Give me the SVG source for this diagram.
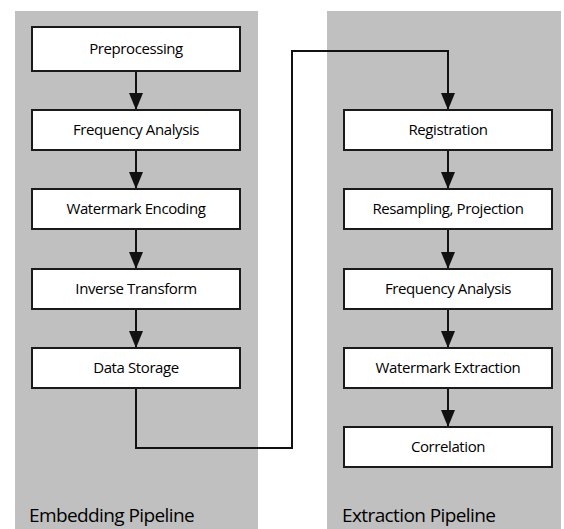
<svg xmlns="http://www.w3.org/2000/svg" width="564" height="529" viewBox="0 0 564 529">
  <style>
    .panel { fill: #c0c0c0; }
    .box { fill: #ffffff; stroke: #1a1a1a; stroke-width: 2; }
    .lbl { font-family: "Open Sans", "Noto Sans", sans-serif; font-size: 15px; font-weight: 500; letter-spacing: -0.4px; fill: #000; text-anchor: middle; }
    .title { font-family: "Open Sans", "Noto Sans", sans-serif; font-size: 19px; font-weight: 500; letter-spacing: -0.6px; fill: #000; }
    .conn { fill: none; stroke: #111; stroke-width: 2; }
  </style>
  <defs>
    <marker id="arr" markerUnits="userSpaceOnUse" viewBox="0 0 17 14" refX="17" refY="7" markerWidth="17" markerHeight="14" orient="auto">
      <path d="M0,0 L17,7 L0,14 z" fill="#111"/>
    </marker>
  </defs>

  <g id="panels">
    <rect class="panel" x="15" y="11" width="243" height="518"/>
    <rect class="panel" x="327" y="11" width="234" height="518"/>
    <text class="title" x="29" y="522">Embedding Pipeline</text>
    <text class="title" x="342" y="522">Extraction Pipeline</text>
  </g>

  <g id="connectors">
    <path class="conn" d="M136,71 V110" marker-end="url(#arr)"/>
    <path class="conn" d="M136,150 V189" marker-end="url(#arr)"/>
    <path class="conn" d="M136,229 V269" marker-end="url(#arr)"/>
    <path class="conn" d="M136,309 V348" marker-end="url(#arr)"/>
    <path class="conn" d="M136,388 V448 H292 V51 H448 V110" marker-end="url(#arr)"/>
    <path class="conn" d="M448,150 V189" marker-end="url(#arr)"/>
    <path class="conn" d="M448,229 V269" marker-end="url(#arr)"/>
    <path class="conn" d="M448,309 V348" marker-end="url(#arr)"/>
    <path class="conn" d="M448,388 V427" marker-end="url(#arr)"/>
  </g>

  <g id="preprocessing"><rect class="box" x="32" y="27" width="208" height="44"/><text class="lbl" x="136" y="54">Preprocessing</text></g>
  <g id="frequency-analysis-1"><rect class="box" x="32" y="110" width="208" height="40"/><text class="lbl" x="136" y="135">Frequency Analysis</text></g>
  <g id="watermark-encoding"><rect class="box" x="32" y="189" width="208" height="40"/><text class="lbl" x="136" y="214">Watermark Encoding</text></g>
  <g id="inverse-transform"><rect class="box" x="32" y="269" width="208" height="40"/><text class="lbl" x="136" y="294">Inverse Transform</text></g>
  <g id="data-storage"><rect class="box" x="32" y="348" width="208" height="40"/><text class="lbl" x="136" y="373">Data Storage</text></g>

  <g id="registration"><rect class="box" x="344" y="110" width="208" height="40"/><text class="lbl" x="448" y="135">Registration</text></g>
  <g id="resampling-projection"><rect class="box" x="344" y="189" width="208" height="40"/><text class="lbl" x="448" y="214">Resampling, Projection</text></g>
  <g id="frequency-analysis-2"><rect class="box" x="344" y="269" width="208" height="40"/><text class="lbl" x="448" y="294">Frequency Analysis</text></g>
  <g id="watermark-extraction"><rect class="box" x="344" y="348" width="208" height="40"/><text class="lbl" x="448" y="373">Watermark Extraction</text></g>
  <g id="correlation"><rect class="box" x="344" y="427" width="208" height="40"/><text class="lbl" x="448" y="452">Correlation</text></g>
</svg>
